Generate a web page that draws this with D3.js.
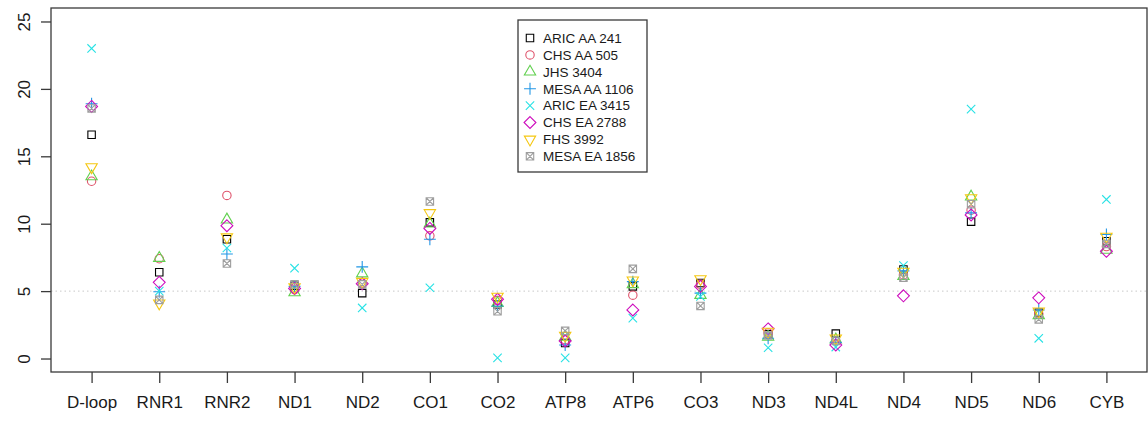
<!DOCTYPE html>
<html>
<head>
<meta charset="utf-8">
<script src="https://cdn.jsdelivr.net/npm/d3@7"></script>
<style>
  html, body { margin: 0; padding: 0; background: #fff; }
  svg { display: block; font-family: "Liberation Sans", Arial, sans-serif; }
</style>
</head>
<body>
<svg id="chart" width="1148" height="422"></svg>
<script>
// Gene regions along the mitochondrial genome
const categories = ["D-loop","RNR1","RNR2","ND1","ND2","CO1","CO2","ATP8","ATP6","CO3","ND3","ND4L","ND4","ND5","ND6","CYB"];

// Cohort labels (legend order = drawing order)
const seriesNames = ["ARIC AA 241","CHS AA 505","JHS 3404","MESA AA 1106","ARIC EA 3415","CHS EA 2788","FHS 3992","MESA EA 1856"];

// Per-region values for each cohort
const aricAA  = [16.6, 6.4, 8.85, 5.4, 4.85, 10.1, 4.0, 1.15, 5.35, 5.6, 1.8, 1.85, 6.6, 10.15, 3.4, 8.7];
const chsAA   = [13.15, 7.4, 12.1, 5.1, 5.6, 9.1, 4.3, 1.4, 4.7, 5.5, 1.9, 1.3, 6.2, 11.0, 3.3, 8.3];
const jhs     = [13.5, 7.45, 10.3, 4.9, 6.3, 10.0, 4.1, 1.6, 5.5, 4.7, 1.6, 1.4, 6.1, 12.0, 3.2, 8.05];
const mesaAA  = [18.9, 4.95, 7.75, 5.35, 6.8, 8.85, 3.9, 1.0, 5.7, 4.85, 1.5, 1.2, 6.5, 10.8, 3.6, 9.2];
const aricEA  = [23.0, 5.0, 8.2, 6.7, 3.75, 5.25, 0.05, 0.05, 3.0, 4.6, 0.8, 0.85, 6.9, 18.5, 1.5, 11.8];
const chsEA   = [18.7, 5.65, 9.85, 5.2, 5.55, 9.65, 4.4, 1.3, 3.6, 5.35, 2.2, 1.0, 4.65, 10.65, 4.5, 7.95];
const fhs     = [14.2, 4.1, 9.0, 5.3, 5.7, 10.8, 4.6, 1.7, 5.8, 5.9, 2.0, 1.5, 6.45, 11.9, 3.5, 9.05];
const mesaEA  = [18.55, 4.35, 7.05, 5.5, 5.5, 11.65, 3.5, 2.05, 6.65, 3.9, 1.7, 1.3, 6.0, 11.45, 2.9, 8.5];

const seriesValues = [aricAA, chsAA, jhs, mesaAA, aricEA, chsEA, fhs, mesaEA];

const yTicks = [0, 5, 10, 15, 20, 25];
const refLine = 5;

const colors = ["#000000", "#DF536B", "#61D04F", "#2297E6", "#28E2E5", "#CD0BBC", "#F5C710", "#9E9E9E"];
const shapes = ["square", "circle", "triUp", "plus", "cross", "diamond", "triDown", "boxX"];

// Plot region
const box = { left: 51, right: 1147, top: 8, bottom: 372 };

const x = d3.scaleLinear()
  .domain([0.4, categories.length + 0.6])
  .range([box.left, box.right]);
const y = d3.scaleLinear()
  .domain([-1, 26])
  .range([box.bottom, box.top]);

const svg = d3.select("#chart");

// Symbol outlines centred on (0,0)
const R = 4.2;
function symbolPath(shape) {
  const p = d3.path();
  const s = R * 0.8862;
  if (shape === "square" || shape === "boxX") {
    p.rect(-s, -s, 2 * s, 2 * s);
    if (shape === "boxX") {
      p.moveTo(-s, -s); p.lineTo(s, s);
      p.moveTo(-s, s); p.lineTo(s, -s);
    }
  } else if (shape === "circle") {
    p.moveTo(R, 0); p.arc(0, 0, R, 0, 2 * Math.PI);
  } else if (shape === "triUp" || shape === "triDown") {
    const k = shape === "triUp" ? 1 : -1;
    const r = 1.5551 * R, xc = 1.3468 * R, yc = 0.7776 * R;
    p.moveTo(0, -k * r); p.lineTo(xc, k * yc); p.lineTo(-xc, k * yc); p.closePath();
  } else if (shape === "plus") {
    const c = Math.SQRT2 * R;
    p.moveTo(-c, 0); p.lineTo(c, 0);
    p.moveTo(0, -c); p.lineTo(0, c);
  } else if (shape === "cross") {
    p.moveTo(-R, -R); p.lineTo(R, R);
    p.moveTo(-R, R); p.lineTo(R, -R);
  } else if (shape === "diamond") {
    const c = Math.SQRT2 * R;
    p.moveTo(0, -c); p.lineTo(c, 0); p.lineTo(0, c); p.lineTo(-c, 0); p.closePath();
  }
  return p.toString();
}

// Reference line at 5
svg.append("line")
  .attr("x1", box.left).attr("x2", box.right)
  .attr("y1", y(refLine)).attr("y2", y(refLine))
  .attr("stroke", "#c8c8c8").attr("stroke-width", 1)
  .attr("stroke-dasharray", "1.5,3");

// Points, one group per cohort
seriesValues.forEach((vals, i) => {
  svg.append("g")
    .selectAll("path")
    .data(vals)
    .join("path")
    .attr("d", symbolPath(shapes[i]))
    .attr("transform", (d, j) => `translate(${x(j + 1)},${y(d)})`)
    .attr("fill", "none")
    .attr("stroke", colors[i])
    .attr("stroke-width", 1.1);
});

// Frame
svg.append("rect")
  .attr("x", box.left).attr("y", box.top)
  .attr("width", box.right - box.left).attr("height", box.bottom - box.top)
  .attr("fill", "none").attr("stroke", "#3a3a3a").attr("stroke-width", 1.3);

// Bottom axis
const xAxis = d3.axisBottom(x)
  .tickValues(d3.range(1, categories.length + 1))
  .tickFormat(d => categories[d - 1])
  .tickSizeOuter(0)
  .tickSize(11)
  .tickPadding(13);
const gx = svg.append("g").attr("transform", `translate(0,${box.bottom})`).call(xAxis);
gx.select(".domain").remove();
gx.selectAll(".tick line").attr("stroke", "#3a3a3a").attr("stroke-width", 1.3);
gx.selectAll(".tick text").attr("fill", "#1a1a1a").style("font-size", "17px").style("font-family", "'Liberation Sans', Arial, sans-serif");

// Left axis with rotated labels
const yAxis = d3.axisLeft(y)
  .tickValues(yTicks)
  .tickSizeOuter(0)
  .tickSize(10)
  .tickFormat(d3.format("d"));
const gy = svg.append("g").attr("transform", `translate(${box.left},0)`).call(yAxis);
gy.select(".domain").remove();
gy.selectAll(".tick line").attr("stroke", "#3a3a3a").attr("stroke-width", 1.3);
gy.selectAll(".tick text")
  .attr("x", null).attr("dy", null)
  .attr("text-anchor", "middle")
  .attr("transform", `translate(-27,0) rotate(-90)`)
  .attr("dy", "0.35em")
  .attr("fill", "#1a1a1a")
  .style("font-size", "17px")
  .style("font-family", "'Liberation Sans', Arial, sans-serif");

// Legend
const legend = svg.append("g").attr("transform", "translate(518,20)");
legend.append("rect")
  .attr("x", 0).attr("y", 0).attr("width", 129).attr("height", 152)
  .attr("fill", "#fff").attr("stroke", "#3a3a3a").attr("stroke-width", 1.3);
const rows = legend.selectAll("g.row")
  .data(seriesNames)
  .join("g")
  .attr("class", "row")
  .attr("transform", (d, i) => `translate(0,${18 + i * 16.9})`);
rows.append("path")
  .attr("d", (d, i) => symbolPath(shapes[i]))
  .attr("transform", "translate(12,0)")
  .attr("fill", "none")
  .attr("stroke", (d, i) => colors[i])
  .attr("stroke-width", 1.1);
rows.append("text")
  .attr("x", 25).attr("dy", "0.36em")
  .attr("fill", "#1a1a1a")
  .style("font-size", "13.5px")
  .text(d => d);
</script>
</body>
</html>
